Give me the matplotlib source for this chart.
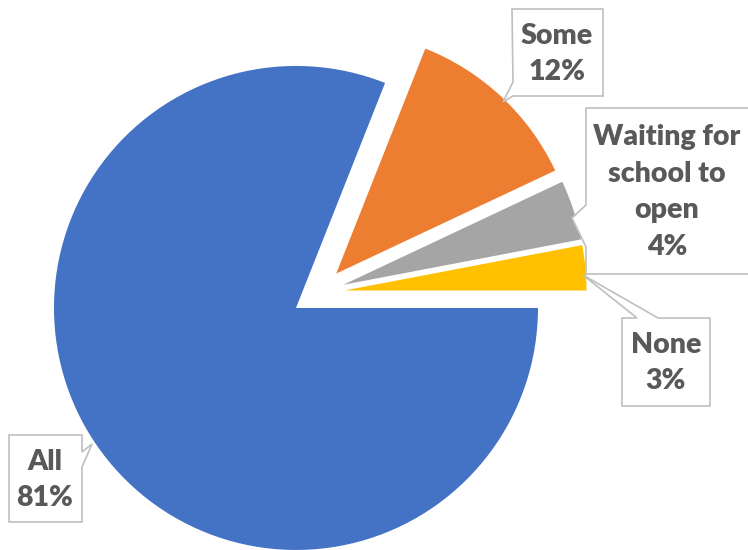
import matplotlib.pyplot as plt
from matplotlib.patches import Polygon

# Datos de la gráfica
categorias = ["All", "Some", "Waiting for\nschool to\nopen", "None"]
porcentajes = [81, 12, 4, 3]
colores = ["#4472C4", "#ED7D31", "#A5A5A5", "#FFC000"]

W, H = 748, 550
fig = plt.figure(figsize=(W / 100, H / 100), dpi=100)
ax = fig.add_axes([0, 0, 1, 1])

# Pastel con todas las porciones separadas (explode en unidades de datos)
radio = 242
ax.pie(porcentajes, colors=colores, startangle=0, counterclock=False,
       radius=radio, center=(318, H - 293), explode=[0.11 * radio] * 4,
       wedgeprops=dict(linewidth=0))
ax.set_xlim(0, W)
ax.set_ylim(0, H)
ax.set_aspect("equal")
ax.axis("off")


def px(x, y):
    # coordenadas en pixeles (y hacia abajo) a coordenadas de datos
    return (x, H - y)


# Cajas de las etiquetas (contorno con la punta hacia la porción)
cajas = [
    [(9, 435), (82, 435), (82, 452), (92, 444), (82, 467), (82, 522), (9, 522)],
    [(512, 9), (603, 9), (603, 96), (513, 96), (503, 102), (513, 82)],
    [(586, 108), (760, 108), (760, 274), (586, 274), (586, 247), (572, 218), (586, 205)],
    [(622, 318), (637, 318), (583, 275), (658, 318), (710, 318), (710, 406), (622, 406)],
]
centros = [(45, 480), (557, 54), (667, 192), (666, 363)]

for caja, (cx, cy), cat, pct in zip(cajas, centros, categorias, porcentajes):
    ax.add_patch(Polygon([px(x, y) for x, y in caja], closed=True,
                         facecolor="white", edgecolor="#BFBFBF", linewidth=1.2,
                         zorder=3))
    ax.text(*px(cx, cy), f"{cat}\n{pct}%", ha="center", va="center",
            fontsize=20.5, fontweight="heavy", color="#595959",
            family=["Lato", "DejaVu Sans"], linespacing=1.5, zorder=4)

fig.savefig("out.png", dpi=100)
